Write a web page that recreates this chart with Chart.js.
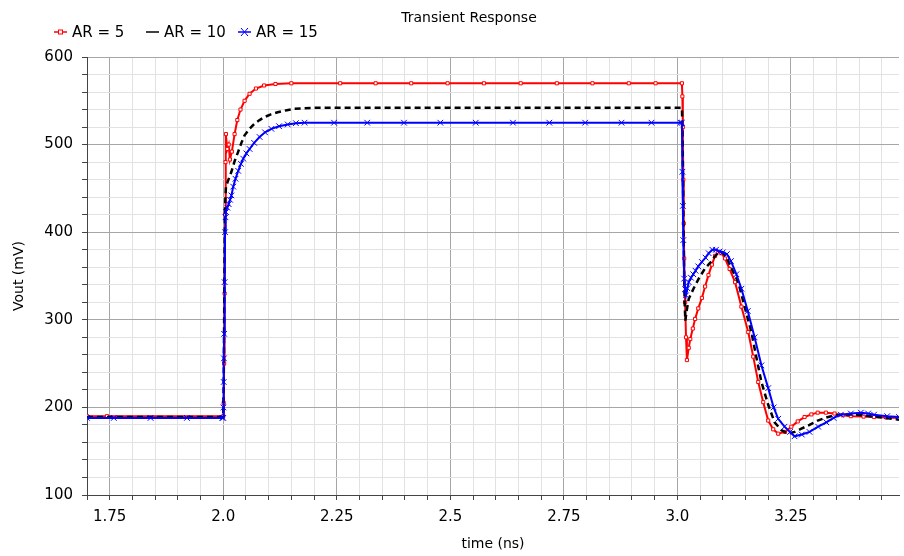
<!DOCTYPE html>
<html>
<head>
<meta charset="utf-8">
<script src="https://cdn.jsdelivr.net/npm/chart.js@4.4.0/dist/chart.umd.min.js"></script>
<style>
  html, body { margin: 0; padding: 0; background: #fff; }
  #wrap { width: 904px; height: 556px; position: relative; }
</style>
</head>
<body>
<div id="wrap"><canvas id="myChart"></canvas></div>
<script>
const chartTitle = 'Transient Response';
const seriesLabels = ['AR = 5', 'AR = 10', 'AR = 15'];

// AR = 5 (red, square markers)
const timeAR5 = [1.70, 1.744, 2.000, 2.001, 2.002, 2.003, 2.004, 2.005, 2.006,
  2.009, 2.012, 2.0147, 2.019, 2.025, 2.031, 2.038, 2.047, 2.058, 2.072, 2.09, 2.115, 2.15,
  2.2575, 2.3355, 2.414, 2.494, 2.574, 2.655, 2.7346, 2.813, 2.893, 2.952,
  3.010, 3.011, 3.012, 3.013, 3.014, 3.015, 3.017, 3.019, 3.021,
  3.025, 3.0284, 3.034, 3.039, 3.046, 3.054, 3.061, 3.0685, 3.076, 3.083, 3.09, 3.097, 3.105, 3.115, 3.127,
  3.141, 3.156, 3.167, 3.178, 3.189, 3.2, 3.211, 3.222,
  3.237, 3.251, 3.265, 3.28, 3.295, 3.309, 3.327, 3.346, 3.364, 3.382,
  3.41, 3.433, 3.46, 3.488];
const voutAR5 = [190, 190, 190, 205, 250, 330, 420, 480, 512,
  495, 500, 483, 492, 512, 528, 540, 550, 558, 564, 567.5, 569.2, 570,
  570, 570, 570, 570, 570, 570, 570, 570, 570, 570,
  570, 555, 520, 460, 410, 370, 320, 280, 254,
  268, 278, 290, 301, 313, 325, 338, 351, 363, 373, 377, 376, 370, 358, 343,
  315, 286, 258, 229, 206, 185, 175, 170,
  172, 178, 184, 189, 192, 194, 194, 193, 191, 190,
  189.5, 189, 188.5, 188];

// AR = 10 (black dashed)
const timeAR10 = [1.70, 2.000, 2.001, 2.002, 2.003, 2.004,
  2.006, 2.010, 2.018, 2.025, 2.033, 2.040, 2.047, 2.058, 2.069, 2.08, 2.091, 2.105, 2.12, 2.14, 2.157, 2.2,
  3.010, 3.011, 3.012, 3.013, 3.014, 3.015, 3.016,
  3.0175, 3.021, 3.025, 3.036, 3.047, 3.06, 3.0735, 3.082, 3.09, 3.098, 3.107, 3.12,
  3.134, 3.148, 3.163, 3.174, 3.185, 3.2, 3.214, 3.229, 3.244, 3.258,
  3.273, 3.291, 3.309, 3.328, 3.346, 3.37, 3.39, 3.415, 3.44, 3.488];
const voutAR10 = [189, 189, 230, 300, 380, 430,
  452, 458, 469, 481, 492, 502, 510.6, 518, 524, 528, 531.5, 534.5, 537, 539.3, 541, 542,
  542, 520, 480, 430, 390, 350, 320,
  299, 312, 324, 336, 347, 358, 366, 372, 376.5, 377, 373, 358,
  343, 315, 286, 257, 229, 203, 183, 174, 170, 172,
  175.7, 180, 185, 188.5, 191, 192, 192, 190.5, 189, 186];

// AR = 15 (blue, x markers)
const timeAR15 = [1.70, 1.759, 1.840, 1.920, 1.998,
  2.000, 2.0005, 2.001, 2.0015, 2.002, 2.003, 2.004, 2.005, 2.006,
  2.009, 2.012, 2.015, 2.018, 2.022, 2.027, 2.033, 2.039, 2.044, 2.051, 2.058, 2.068, 2.08, 2.092, 2.106, 2.123, 2.142, 2.16, 2.179,
  2.244, 2.317, 2.398, 2.478, 2.556, 2.638, 2.718, 2.797, 2.877, 2.943, 3.007,
  3.010, 3.011, 3.012, 3.013, 3.015, 3.017, 3.019,
  3.022, 3.025, 3.03, 3.035, 3.04, 3.046, 3.054, 3.062, 3.069, 3.077,
  3.085, 3.093, 3.1, 3.109, 3.118, 3.13, 3.141, 3.155, 3.17, 3.185,
  3.2, 3.212, 3.222, 3.236, 3.248, 3.258, 3.274, 3.291, 3.31, 3.328,
  3.344, 3.36, 3.382, 3.404, 3.42, 3.433, 3.462, 3.488];
const voutAR15 = [188, 188, 188, 188, 188,
  188, 200, 229, 256, 284, 343, 400, 417, 423,
  428, 432, 437, 442, 452, 461, 470, 478, 484, 490, 495, 502, 508.7, 514, 518, 521, 523, 524.5, 525,
  525, 525, 525, 525, 525, 525, 525, 525, 525, 525, 525,
  525, 469, 430, 391, 347, 335, 328,
  336, 343, 348, 352, 356, 361, 366, 371, 376, 380,
  380, 378, 377, 375, 367, 352, 335.5, 310, 280, 248,
  222, 200, 187, 178, 172, 167, 169, 172, 178, 183,
  188, 191.7, 193, 194, 193, 191.7, 190, 189];

const xMin = 1.70, xMax = 3.488, xStep = 0.05, xMajor = 0.25;
const yMin = 100, yMax = 600, yStep = 20, yMajor = 100;

function toPoints(ts, vs) {
  return ts.map((t, i) => ({x: t, y: vs[i]}));
}

function isMajor(v, step) {
  const q = v / step;
  return Math.abs(q - Math.round(q)) < 1e-6;
}

function timeLabel(v) {
  const r = Math.round(v * 100) / 100;
  return Number.isInteger(r) ? r.toFixed(1) : String(r);
}

const FONT = '"DejaVu Sans", sans-serif';
Chart.defaults.font.family = FONT;
Chart.defaults.color = '#000';

// title and legend row, drawn at the top like the original tool does
const headerPlugin = {
  id: 'header',
  afterDraw(chart) {
    const ctx = chart.ctx;
    ctx.save();
    ctx.fillStyle = '#000';
    ctx.textBaseline = 'middle';
    ctx.font = '14px ' + FONT;
    ctx.textAlign = 'center';
    ctx.fillText(chartTitle, 469, 18);

    ctx.textAlign = 'left';
    chart.data.datasets.forEach((ds, i) => {
      const x0 = 54 + i * 92, y = 32;
      ctx.strokeStyle = ds.borderColor;
      ctx.lineWidth = 1.5;
      ctx.setLineDash([]);
      ctx.beginPath();
      ctx.moveTo(x0, y);
      ctx.lineTo(x0 + 13, y);
      ctx.stroke();
      if (ds.pointStyle === 'rect') {
        ctx.lineWidth = 1;
        ctx.fillStyle = '#fff';
        ctx.fillRect(x0 + 4.5, y - 2, 4, 4);
        ctx.strokeRect(x0 + 4.5, y - 2, 4, 4);
      } else if (ds.pointStyle === 'crossRot') {
        ctx.lineWidth = 1;
        ctx.beginPath();
        ctx.moveTo(x0 + 3, y - 4); ctx.lineTo(x0 + 10, y + 4);
        ctx.moveTo(x0 + 10, y - 4); ctx.lineTo(x0 + 3, y + 4);
        ctx.stroke();
      }
      ctx.fillStyle = '#000';
      ctx.font = '15px ' + FONT;
      ctx.fillText(ds.label, x0 + 18, y + 1);
    });
    ctx.restore();
  }
};

const ctx = document.getElementById('myChart').getContext('2d');
new Chart(ctx, {
  type: 'line',
  data: {
    datasets: [{
      label: seriesLabels[0],
      data: toPoints(timeAR5, voutAR5),
      borderColor: '#ff0000',
      borderWidth: 2,
      pointStyle: 'rect',
      pointRadius: 2.2,
      pointBorderWidth: 1,
      pointBackgroundColor: '#fff',
      pointBorderColor: '#ff0000',
      tension: 0,
      order: 3
    }, {
      label: seriesLabels[1],
      data: toPoints(timeAR10, voutAR10),
      borderColor: '#000000',
      borderWidth: 2.5,
      borderDash: [6, 4],
      pointRadius: 0,
      tension: 0,
      order: 2
    }, {
      label: seriesLabels[2],
      data: toPoints(timeAR15, voutAR15),
      borderColor: '#0000ff',
      borderWidth: 2,
      pointStyle: 'crossRot',
      pointRadius: 4,
      pointBorderWidth: 1,
      pointBorderColor: '#0000ff',
      tension: 0,
      order: 1
    }]
  },
  options: {
    responsive: true,
    maintainAspectRatio: false,
    animation: false,
    layout: {padding: {top: 57, right: -5, left: 0, bottom: 0}},
    plugins: {
      legend: {display: false},
      title: {display: false},
      tooltip: {enabled: false}
    },
    scales: {
      x: {
        type: 'linear',
        min: xMin,
        max: xMax,
        afterFit(scale) {
          scale.height = 61;
          scale.paddingLeft = 0;
          scale.paddingRight = 0;
        },
        border: {color: '#444', width: 1},
        grid: {
          color: c => isMajor(c.tick.value, xMajor) ? '#a6a6a6' : '#e2e2e2',
          tickColor: '#444',
          tickLength: 5,
          drawTicks: true
        },
        ticks: {
          stepSize: xStep,
          includeBounds: false,
          autoSkip: false,
          maxRotation: 0,
          minRotation: 0,
          padding: 8,
          font: {size: 15},
          callback: v => isMajor(v, xMajor) ? timeLabel(v) : ''
        },
        title: {
          display: true,
          text: 'time (ns)',
          font: {size: 14},
          padding: {top: 2, bottom: 3}
        }
      },
      y: {
        type: 'linear',
        min: yMin,
        max: yMax,
        afterFit(scale) { scale.width = 87; },
        border: {color: '#444', width: 1},
        grid: {
          color: c => isMajor(c.tick.value, yMajor) ? '#a6a6a6' : '#e2e2e2',
          tickColor: '#444',
          tickLength: 5,
          drawTicks: true
        },
        ticks: {
          stepSize: yStep,
          autoSkip: false,
          padding: 9,
          font: {size: 15},
          callback: v => isMajor(v, yMajor) ? String(v) : ''
        },
        title: {
          display: true,
          text: 'Vout (mV)',
          font: {size: 14},
          padding: {top: 11, bottom: 0}
        }
      }
    }
  },
  plugins: [headerPlugin]
});
</script>
</body>
</html>
